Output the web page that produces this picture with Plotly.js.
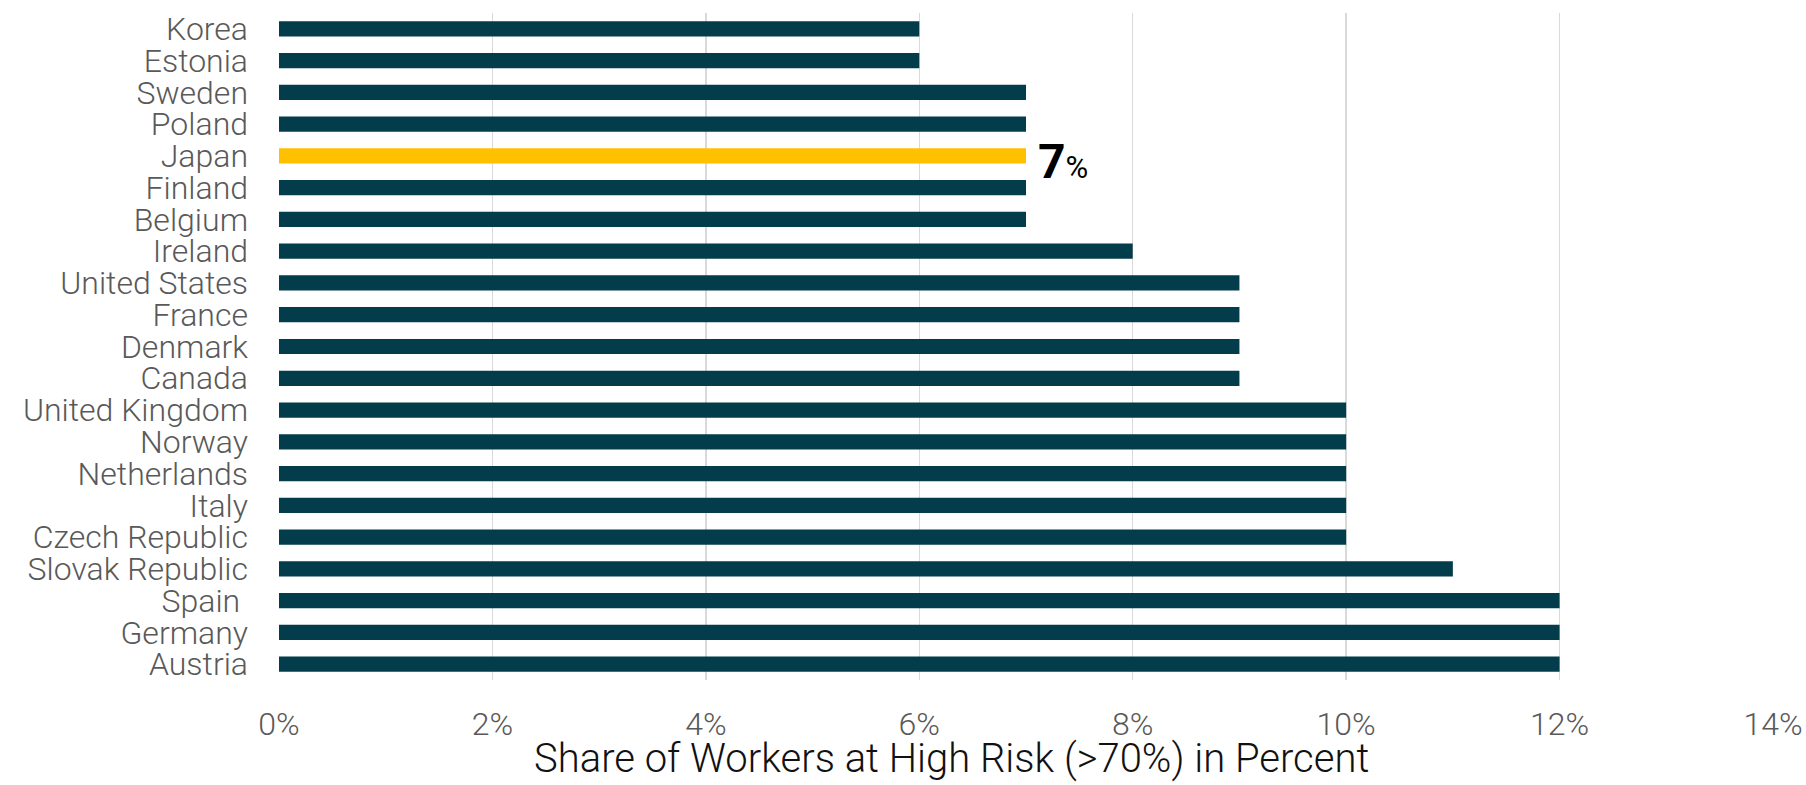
<!DOCTYPE html>
<html>
<head>
<meta charset="utf-8">
<script src="https://cdn.plot.ly/plotly-3.0.1.min.js"></script>
<style>html,body{margin:0;padding:0;background:#fff;}#chart{width:1806px;height:785px;}</style>
</head>
<body>
<div id="chart"></div>
<script>
const countries = ["Korea","Estonia","Sweden","Poland","Japan","Finland","Belgium","Ireland","United States","France","Denmark","Canada","United Kingdom","Norway","Netherlands","Italy","Czech Republic","Slovak Republic","Spain\u00a0","Germany","Austria"];
const shares = [0.06,0.06,0.07,0.07,0.07,0.07,0.07,0.08,0.09,0.09,0.09,0.09,0.10,0.10,0.10,0.10,0.10,0.11,0.12,0.12,0.12];
const highlight = "Japan";
const highlightLabel = "<b>7</b><span style=\"font-size:31px;font-weight:normal\">%</span>";
const xTitle = "Share of Workers at High Risk (>70%) in Percent";

const colors = countries.map(c => c === highlight ? "#FFC000" : "#033C4B");
const hiIdx = countries.indexOf(highlight);

const trace = {
  type: "bar",
  orientation: "h",
  y: countries,
  x: shares,
  marker: {color: colors, line: {width: 0}},
  hoverinfo: "x+y"
};

const layout = {
  width: 1806, height: 785,
  margin: {l: 279, r: 33, t: 13, b: 105.4},
  paper_bgcolor: "#fff", plot_bgcolor: "#fff",
  bargap: 0.52,
  showlegend: false,
  font: {family: "Roboto, 'Noto Sans', sans-serif", color: "#595959"},
  xaxis: {
    range: [0, 0.14], dtick: 0.02, tickformat: ".0%",
    showgrid: true, gridcolor: "#D9D9D9", gridwidth: 1.5,
    zeroline: false, showline: false, ticks: "",
    tickfont: {size: 32, color: "#595959", family: "Roboto, sans-serif", weight: 300},
    ticklabelstandoff: 22
  },
  yaxis: {
    autorange: "reversed", type: "category",
    tickmode: "array", tickvals: countries, ticktext: countries,
    showgrid: false, zeroline: false, showline: false, ticks: "",
    tickfont: {size: 32, color: "#595959", family: "Roboto, sans-serif", weight: 300},
    ticklabelstandoff: 30
  },
  annotations: [
    {
      x: shares[hiIdx], y: countries[hiIdx], xref: "x", yref: "y",
      text: highlightLabel, showarrow: false,
      xanchor: "left", yanchor: "middle", xshift: 10, yshift: -6,
      font: {size: 48, color: "#000", family: "Roboto, sans-serif"}
    },
    {
      x: 0.4501, y: -0.1175, xref: "paper", yref: "paper",
      text: xTitle, showarrow: false, xanchor: "center", yanchor: "middle",
      font: {size: 40, color: "#111", family: "Roboto, sans-serif", weight: 300}
    }
  ]
};

Plotly.newPlot("chart", [trace], layout, {displayModeBar: false, staticPlot: true});
</script>
</body>
</html>
